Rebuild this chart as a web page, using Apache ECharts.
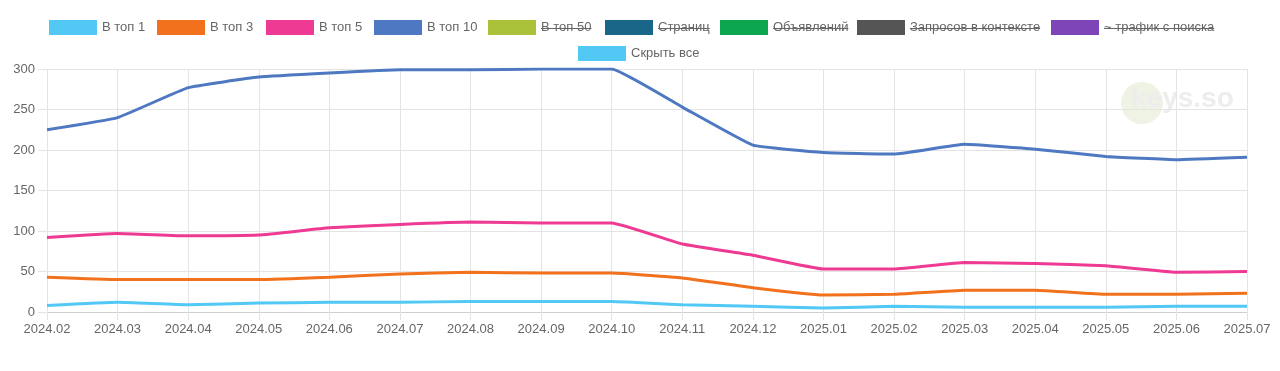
<!DOCTYPE html>
<html>
<head>
<meta charset="utf-8">
<script src="https://cdn.jsdelivr.net/npm/echarts@6/dist/echarts.min.js"></script>
<style>
html,body{margin:0;padding:0;background:#fff;}
#chart{width:1280px;height:371px;}
</style>
</head>
<body>
<div id="chart"></div>
<script>
var categories = ['2024.02','2024.03','2024.04','2024.05','2024.06','2024.07','2024.08','2024.09','2024.10','2024.11','2024.12','2025.01','2025.02','2025.03','2025.04','2025.05','2025.06','2025.07'];
var top1  = [8, 12, 9, 11, 12, 12, 13, 13, 13, 9, 7, 5, 7, 6, 6, 6, 7, 7];
var top3  = [43, 40, 40, 40, 43, 47, 49, 48, 48, 42, 30, 21, 22, 27, 27, 22, 22, 23];
var top5  = [92, 97, 94, 95, 104, 108, 111, 110, 110, 84, 70, 53, 53, 61, 60, 57, 49, 50];
var top10 = [225, 240, 277, 290, 295, 299, 299, 300, 300, 253, 206, 197, 195, 207, 201, 192, 188, 191];
var yTicks = [0, 50, 100, 150, 200, 250, 300];

var seriesNames = ['В топ 1','В топ 3','В топ 5','В топ 10','В топ 50','Страниц','Объявлений','Запросов в контексте','~ трафик с поиска'];
var seriesColors = ['#52c8f5','#f2711c','#ee3a92','#4e78c1','#a9c23a','#1a6688','#0ba64e','#555555','#7e45b8'];
var hiddenNames = ['В топ 50','Страниц','Объявлений','Запросов в контексте','~ трафик с поиска'];
var hideAllLabel = 'Скрыть все';

var FONT = '"Liberation Sans", Arial, Helvetica, sans-serif';
var dataByName = {'В топ 1': top1, 'В топ 3': top3, 'В топ 5': top5, 'В топ 10': top10};

var legendLefts = [49, 157, 266, 374, 488, 605, 720, 857, 1051];
var legendTop = 20, legendW = 48, legendH = 15;

var series = seriesNames.map(function (n, i) {
  return {
    name: n, type: 'line',
    data: dataByName[n] || [],
    showSymbol: false, symbol: 'none',
    smooth: 0.1,
    z: 10 - i,
    itemStyle: {color: seriesColors[i]},
    lineStyle: {color: seriesColors[i], width: 3}
  };
});
series.push({name: hideAllLabel, type: 'line', data: [], showSymbol: false,
  itemStyle: {color: '#52c8f5'}, lineStyle: {color: '#52c8f5', width: 3}});

var legendBase = {
  padding: 0, itemWidth: legendW, itemHeight: legendH, itemGap: 0, icon: 'rect',
  selectedMode: false,
  textStyle: {fontSize: 13, color: '#666', fontFamily: FONT}
};
var legends = seriesNames.map(function (n, i) {
  return Object.assign({}, legendBase, {left: legendLefts[i], top: legendTop, data: [n]});
});
legends.push(Object.assign({}, legendBase, {left: 578, top: 46, data: [hideAllLabel]}));

// strikethrough lines for hidden items
var ctx = document.createElement('canvas').getContext('2d');
ctx.font = '13px ' + FONT;
var graphics = [];
hiddenNames.forEach(function (n) {
  var i = seriesNames.indexOf(n);
  var x0 = legendLefts[i] + legendW + 5;
  var w = ctx.measureText(n).width;
  var y = legendTop + Math.round(legendH / 2) + 0.5;
  graphics.push({type: 'line', z: 100,
    shape: {x1: x0, y1: y, x2: x0 + w, y2: y},
    style: {stroke: '#666', lineWidth: 1}});
});
// watermark
graphics.push({type: 'circle', z: -10, silent: true, shape: {cx: 1142, cy: 103, r: 21}, style: {fill: '#eef3e4'}});
graphics.push({type: 'text', z: -9, silent: true, left: 1131, top: 85,
  style: {text: 'keys.so', fill: '#ededed', font: 'bold 28px ' + FONT}});

var chart = echarts.init(document.getElementById('chart'), null, {renderer: 'canvas'});
chart.setOption({
  animation: false,
  backgroundColor: '#fff',
  textStyle: {fontFamily: FONT},
  legend: legends,
  graphic: graphics,
  grid: {left: 47, right: 33, top: 69, bottom: 59, containLabel: false},
  xAxis: {
    type: 'category', data: categories, boundaryGap: false,
    axisLine: {show: true, lineStyle: {color: '#cfcfcf', width: 1}},
    axisTick: {show: true, length: 8, alignWithLabel: true, lineStyle: {color: '#e4e4e4'}},
    axisLabel: {fontSize: 13, color: '#666', margin: 11, fontFamily: FONT, interval: 0},
    splitLine: {show: true, lineStyle: {color: '#e4e4e4', width: 1}}
  },
  yAxis: {
    type: 'value', min: yTicks[0], max: yTicks[yTicks.length - 1], interval: yTicks[1] - yTicks[0],
    axisLine: {show: false},
    axisTick: {show: true, length: 9, lineStyle: {color: '#e4e4e4'}},
    axisLabel: {fontSize: 13, color: '#666', margin: 12, fontFamily: FONT},
    splitLine: {show: true, lineStyle: {color: '#e4e4e4', width: 1}}
  },
  series: series
});
</script>
</body>
</html>
